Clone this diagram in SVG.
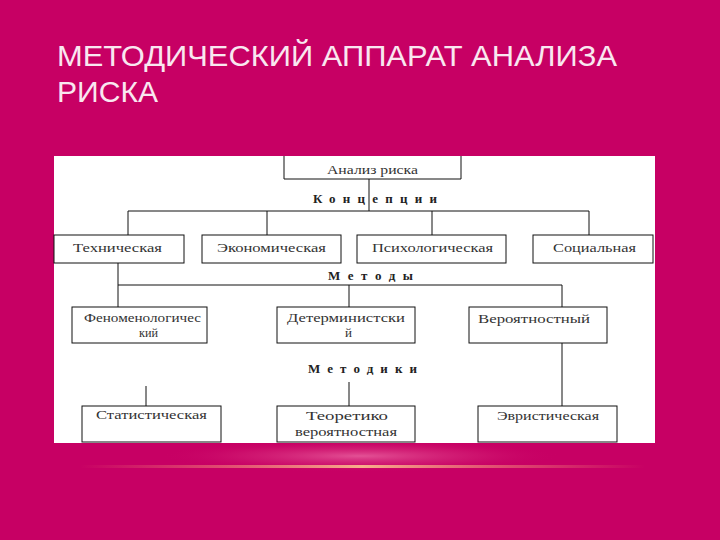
<svg xmlns="http://www.w3.org/2000/svg" width="720" height="540" viewBox="0 0 720 540">
  <defs>
    <radialGradient id="glow" cx="0.5" cy="0.5" r="0.5">
      <stop offset="0" stop-color="#E8609E" stop-opacity="0.85"/>
      <stop offset="0.6" stop-color="#D8307E" stop-opacity="0.35"/>
      <stop offset="1" stop-color="#C70064" stop-opacity="0"/>
    </radialGradient>
    <linearGradient id="line" x1="0" y1="0" x2="1" y2="0">
      <stop offset="0" stop-color="#F08070" stop-opacity="0"/>
      <stop offset="0.25" stop-color="#F07E78" stop-opacity="0.6"/>
      <stop offset="0.5" stop-color="#F8B08A" stop-opacity="1"/>
      <stop offset="0.75" stop-color="#F07E78" stop-opacity="0.6"/>
      <stop offset="1" stop-color="#F08070" stop-opacity="0"/>
    </linearGradient>
    <clipPath id="panelClip">
      <rect x="54" y="156" width="601" height="287"/>
    </clipPath>
    <style>
      .title { font-family: "Liberation Sans", Arial, sans-serif; font-size: 29px; fill: #F9E7F0; }
      .box { fill: #FFFFFF; stroke: #111111; stroke-width: 1; }
      .lbl { font-family: "Liberation Serif", "Times New Roman", serif; font-size: 13px; fill: #333333; }
      .hdr { font-family: "Liberation Serif", "Times New Roman", serif; font-size: 13px; font-weight: bold; fill: #222222; }
      .conn { fill: none; stroke: #111111; stroke-width: 1; }
    </style>
  </defs>

  <rect x="0" y="0" width="720" height="540" fill="#C70064"/>

  <text class="title" x="57" y="66" textLength="560" lengthAdjust="spacingAndGlyphs">МЕТОДИЧЕСКИЙ АППАРАТ АНАЛИЗА</text>
  <text class="title" x="57" y="102" textLength="101" lengthAdjust="spacingAndGlyphs">РИСКА</text>

  <ellipse cx="360" cy="456" rx="200" ry="16" fill="url(#glow)"/>
  <rect x="80" y="465" width="565" height="3" fill="url(#line)"/>

  <rect x="54" y="156" width="601" height="287" fill="#FFFFFF"/>

  <g id="connectors">
    <path class="conn" d="M369,179 V211 M128,211 H589 M128,211 V235 M267,211 V235 M432,211 V235 M589,211 V235"/>
    <path class="conn" d="M118,263 V285 H562 V307 M118,285 V307 M349,285 V307"/>
    <path class="conn" d="M562,343 V406 M146,386 V406 M349,382 V406"/>
  </g>

  <g id="headers">
    <text class="hdr" x="313" y="203" textLength="124" lengthAdjust="spacing">Концепции</text>
    <text class="hdr" x="328" y="280" textLength="85" lengthAdjust="spacing">Методы</text>
    <text class="hdr" x="308" y="373" textLength="109" lengthAdjust="spacing">Методики</text>
  </g>

  <g id="n-analysis">
    <path class="box" d="M284,156 V179 H461 V156"/>
    <text class="lbl" x="327" y="174" textLength="91" lengthAdjust="spacingAndGlyphs" clip-path="url(#panelClip)">Анализ риска</text>
  </g>

  <g id="n-tech">
    <rect class="box" x="54" y="235" width="130" height="28"/>
    <text class="lbl" x="73" y="252" textLength="89" lengthAdjust="spacingAndGlyphs">Техническая</text>
  </g>
  <g id="n-econ">
    <rect class="box" x="202" y="235" width="139" height="28"/>
    <text class="lbl" x="217" y="252" textLength="109" lengthAdjust="spacingAndGlyphs">Экономическая</text>
  </g>
  <g id="n-psych">
    <rect class="box" x="357" y="235" width="149" height="28"/>
    <text class="lbl" x="372" y="252" textLength="121" lengthAdjust="spacingAndGlyphs">Психологическая</text>
  </g>
  <g id="n-social">
    <rect class="box" x="533" y="235" width="120" height="28"/>
    <text class="lbl" x="553" y="252" textLength="83" lengthAdjust="spacingAndGlyphs">Социальная</text>
  </g>

  <g id="n-phenom">
    <rect class="box" x="72" y="307" width="135" height="36"/>
    <text class="lbl" x="84" y="322" textLength="117" lengthAdjust="spacingAndGlyphs">Феноменологичес</text>
    <text class="lbl" x="139" y="337" textLength="19" lengthAdjust="spacingAndGlyphs">кий</text>
  </g>
  <g id="n-determ">
    <rect class="box" x="277" y="307" width="138" height="36"/>
    <text class="lbl" x="287" y="322" textLength="118" lengthAdjust="spacingAndGlyphs">Детерминистски</text>
    <text class="lbl" x="345" y="337">й</text>
  </g>
  <g id="n-prob">
    <rect class="box" x="469" y="307" width="138" height="36"/>
    <text class="lbl" x="478" y="323" textLength="112" lengthAdjust="spacingAndGlyphs">Вероятностный</text>
  </g>

  <g id="n-stat">
    <rect class="box" x="82" y="406" width="139" height="36"/>
    <text class="lbl" x="96" y="419" textLength="111" lengthAdjust="spacingAndGlyphs">Статистическая</text>
  </g>
  <g id="n-theor">
    <rect class="box" x="277" y="406" width="138" height="36"/>
    <text class="lbl" x="306" y="420" textLength="82" lengthAdjust="spacingAndGlyphs">Теоретико</text>
    <text class="lbl" x="295" y="436" textLength="102" lengthAdjust="spacingAndGlyphs">вероятностная</text>
  </g>
  <g id="n-heur">
    <rect class="box" x="478" y="406" width="139" height="36"/>
    <text class="lbl" x="497" y="420" textLength="102" lengthAdjust="spacingAndGlyphs">Эвристическая</text>
  </g>
</svg>
